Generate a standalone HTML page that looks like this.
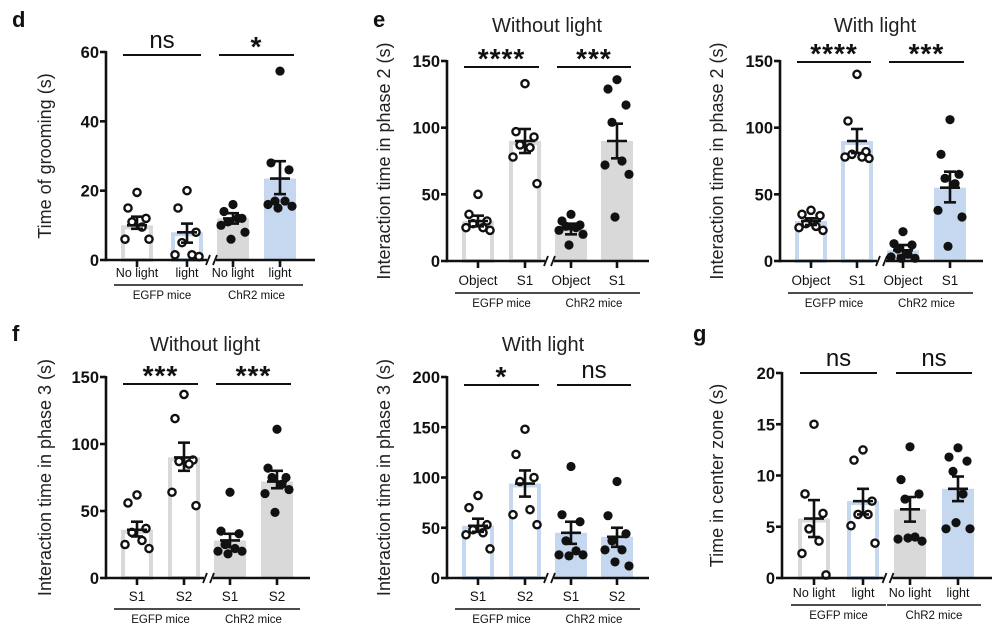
<!DOCTYPE html>
<html><head><meta charset="utf-8"><style>
html,body{margin:0;padding:0;background:#fff;}
svg{display:block;font-family:"Liberation Sans",Arial,sans-serif;}
</style></head><body>
<svg id="fig" width="1004" height="640" viewBox="0 0 1004 640" xmlns="http://www.w3.org/2000/svg"></svg>
<script>
// ---- data ----
const dMeans=[10,8,12,23.5];
const dPts=[[19.5,15,12,11,9.5,6,6],[20,15,8,5,1.5,1.5,1],[16,14,12,11,12,10,8,6],[54.5,28,26,17,17,16,15.5,15]];
const dErr=[[12.5,9],[10.5,5],[13.5,10.5],[28.5,19]];
const eLMeans=[30,90,24,90];
const eLPts=[[50,35,30,28,25,25,23],[133,97,93,87,85,78,58],[35,30,27,26,25,23,20,12],[136,129,117,104,75,72,65,33]];
const eLErr=[[34,26],[99,81],[28,20],[103,77]];
const eRMeans=[30,90,8,55];
const eRPts=[[38,35,34,28,26,25,23],[140,105,82,80,78,78,77],[22,13,12,9,5,3,2,2],[106,80,65,62,58,38,33,11]];
const eRErr=[[32,27],[99,81],[12,4],[67,44]];
const fMeans=[36,90,28,72];
const fPts=[[62,56,37,34,28,25,22],[137,119,88,87,85,64,54],[64,35,33,25,22,20,20,18],[111,82,75,75,70,63,66,49]];
const fErr=[[42,31],[101,80],[33,23],[80,67]];
const e2Means=[52,94,45,41];
const e2Pts=[[82,70,53,48,45,43,29],[148,123,100,96,68,63,53],[111,63,56,37,27,23,23,22],[96,62,44,37,28,28,12,16]];
const e2Err=[[59,46],[107,81],[56,34],[50,31]];
const gMeans=[5.8,7.5,6.7,8.7];
const gPts=[[15,8.2,6.3,4.8,3.6,2.4,0.3],[12.5,11.5,7.5,6.2,6.2,5.1,3.4],[12.8,9.6,8.2,7.7,4.0,3.8,3.6,3.9],[12.7,11.8,11.4,10.4,8.2,4.8,4.8,5.4]];
const gErr=[[7.6,4.0],[8.7,6.2],[7.9,5.5],[9.9,7.5]];
const catsLight=["No light","light","No light","light"];
const catsObj=["Object","S1","Object","S1"];
const catsS=["S1","S2","S1","S2"];
const groups=["EGFP mice","ChR2 mice"];

const NS="http://www.w3.org/2000/svg";
const svg=document.getElementById('fig');
function mk(tag,attrs,parent,text){const e=document.createElementNS(NS,tag);for(const k in attrs)e.setAttribute(k,attrs[k]);if(text!==undefined)e.textContent=text;(parent||svg).appendChild(e);return e;}
const GREY="#d9d9d9",BLUE="#c6d8ef";
const offs=[0,-9,9,-5,5,-12,12,-2];

function panel(p){
  const g=mk('g',{});
  
  
  const y=v=>p.y0-(v/p.max)*(p.y0-p.yTop);
  if(p.title){const t=mk('text',{x:p.tx,y:p.ty,'font-size':20,'text-anchor':'middle',fill:'#222'},g,p.title);
    }
  const cy=(p.y0+p.yTop)/2;
  const yl=mk('text',{x:p.ylx,y:cy,'font-size':18,'text-anchor':'middle',fill:'#222',transform:`rotate(-90 ${p.ylx} ${cy})`},g,p.ylabel);
  
  const bw=32;
  p.means.forEach((m,i)=>{
    const cx=p.xs[i];const filled=i>=2;const col=p.colors[i];
    let b;
    if(filled) b=mk('rect',{x:cx-bw/2,y:y(m),width:bw,height:p.y0-y(m),fill:col},g);
    else b=mk('rect',{x:cx-bw/2+2,y:y(m)+2,width:bw-4,height:p.y0-y(m)-2,fill:'#fff',stroke:col,'stroke-width':4},g);
    
  });
  p.pts.forEach((arr,i)=>{
    const filled=i>=2;
    arr.forEach((v,j)=>{
      const c=mk('circle',{cx:p.xs[i]+offs[j%offs.length],cy:y(v),r:filled?4.6:3.6,fill:filled?'#111':'#fff',stroke:'#111','stroke-width':filled?0:2.4},g);
      
    });
  });
  p.err.forEach((e,i)=>{
    const cx=p.xs[i];
    const eg=mk('g',{stroke:'#111','stroke-width':2.6},g);
    
    mk('line',{x1:cx,x2:cx,y1:y(e[0]),y2:y(e[1])},eg);
    mk('line',{x1:cx-6,x2:cx+6,y1:y(e[0]),y2:y(e[0])},eg);
    mk('line',{x1:cx-6,x2:cx+6,y1:y(e[1]),y2:y(e[1])},eg);
    mk('line',{x1:cx-10,x2:cx+10,y1:y(p.means[i]),y2:y(p.means[i])},eg);
  });
  const brk=(p.xs[1]+p.xs[2])/2+2;
  const ax=mk('g',{stroke:'#111','stroke-width':2.6,fill:'none'},g);
  
  mk('line',{x1:p.ax,x2:p.ax,y1:p.yTop-1,y2:p.y0+1.3},ax);
  mk('line',{x1:p.ax,x2:brk-5,y1:p.y0,y2:p.y0},ax);
  mk('line',{x1:brk+4,x2:p.xEnd,y1:p.y0,y2:p.y0},ax);
  mk('line',{x1:brk-6,x2:brk-2,y1:p.y0+5,y2:p.y0-5,'stroke-width':1.8},ax);
  mk('line',{x1:brk+1,x2:brk+5,y1:p.y0+5,y2:p.y0-5,'stroke-width':1.8},ax);
  p.ticks.forEach(t=>{
    mk('line',{x1:p.ax-6,x2:p.ax,y1:y(t),y2:y(t)},ax);
    const tl=mk('text',{x:p.ax-7,y:y(t)+6,'font-size':16.5,'font-weight':'bold','text-anchor':'end',fill:'#111',stroke:'none'},g,t);
    
  });
  p.xs.forEach((cx,i)=>{
    mk('line',{x1:cx,x2:cx,y1:p.y0,y2:p.y0+7},ax);
    const xl=mk('text',{x:cx,y:p.y0+p.lab,'font-size':p.lfs,'text-anchor':'middle',fill:'#111'},g,p.cats[i]);
    
  });
  [[0,1],[2,3]].forEach((pr,k)=>{
    const x1=p.xs[pr[0]]-23,x2=p.xs[pr[1]]+23;
    mk('line',{x1,x2,y1:p.y0+p.lab+8,y2:p.y0+p.lab+8,stroke:'#111','stroke-width':1.4},g);
    const gl=mk('text',{x:(x1+x2)/2,y:p.y0+p.lab+22,'font-size':11.5,'text-anchor':'middle',fill:'#111'},g,groups[k]);
    
  });
  [[0,1],[2,3]].forEach((pr,k)=>{
    const x1=p.xs[pr[0]]-14,x2=p.xs[pr[1]]+14;
    const sg=mk('g',{},g);
    mk('line',{x1,x2,y1:p.sigY,y2:p.sigY,stroke:'#111','stroke-width':2},sg);
    const s=p.sig[k];const ns=s==='ns';
    mk('text',{x:(x1+x2)/2,y:ns?p.sigY-7:p.sigY+1,'font-size':ns?24:28,'font-weight':ns?'normal':'bold','text-anchor':'middle',fill:'#111','letter-spacing':ns?0:1},sg,s);
  });
}
const letters=[["d",12,27],["e",373,27],["f",12,341],["g",693,341]];
letters.forEach(l=>{const t=mk('text',{x:l[1],y:l[2],'font-size':22,'font-weight':'bold',fill:'#111'},svg,l[0]);});

panel({name:'panel-d',means:dMeans,pts:dPts,err:dErr,cats:catsLight,xs:[137,187,233,280],ax:106,y0:260,yTop:52,max:60,ticks:[0,20,40,60],xEnd:315,colors:[GREY,BLUE,GREY,BLUE],ylabel:'Time of grooming (s)',ylx:51,sigY:55,sig:['ns','*'],lab:17,lfs:12.5});
panel({name:'panel-e-without-light',means:eLMeans,pts:eLPts,err:eLErr,cats:catsObj,xs:[478,525,571,617],ax:447,y0:261,yTop:61,max:150,ticks:[0,50,100,150],xEnd:649,colors:[GREY,GREY,GREY,GREY],ylabel:'Interaction time in phase 2 (s)',ylx:390,sigY:67,sig:['****','***'],lab:24,lfs:13.5,title:'Without light',tx:547,ty:32});
panel({name:'panel-e-with-light',means:eRMeans,pts:eRPts,err:eRErr,cats:catsObj,xs:[811,857,903,950],ax:780,y0:261,yTop:61,max:150,ticks:[0,50,100,150],xEnd:983,colors:[BLUE,BLUE,BLUE,BLUE],ylabel:'Interaction time in phase 2 (s)',ylx:723,sigY:62,sig:['****','***'],lab:24,lfs:13.5,title:'With light',tx:875,ty:32});
panel({name:'panel-f',means:fMeans,pts:fPts,err:fErr,cats:catsS,xs:[137,184,230,277],ax:106,y0:578,yTop:377,max:150,ticks:[0,50,100,150],xEnd:310,colors:[GREY,GREY,GREY,GREY],ylabel:'Interaction time in phase 3 (s)',ylx:51,sigY:384,sig:['***','***'],lab:23,lfs:13.5,title:'Without light',tx:205,ty:351});
panel({name:'panel-e-phase3-with-light',means:e2Means,pts:e2Pts,err:e2Err,cats:catsS,xs:[478,525,571,617],ax:447,y0:578,yTop:377,max:200,ticks:[0,50,100,150,200],xEnd:649,colors:[BLUE,BLUE,BLUE,BLUE],ylabel:'Interaction time in phase 3 (s)',ylx:390,sigY:385,sig:['*','ns'],lab:23,lfs:13.5,title:'With light',tx:543,ty:351});
panel({name:'panel-g',means:gMeans,pts:gPts,err:gErr,cats:catsLight,xs:[814,863,910,958],ax:782,y0:578,yTop:373,max:20,ticks:[0,5,10,15,20],xEnd:992,colors:[GREY,BLUE,GREY,BLUE],ylabel:'Time in center zone (s)',ylx:723,sigY:373,sig:['ns','ns'],lab:19,lfs:12.5});
</script>
</body></html>
